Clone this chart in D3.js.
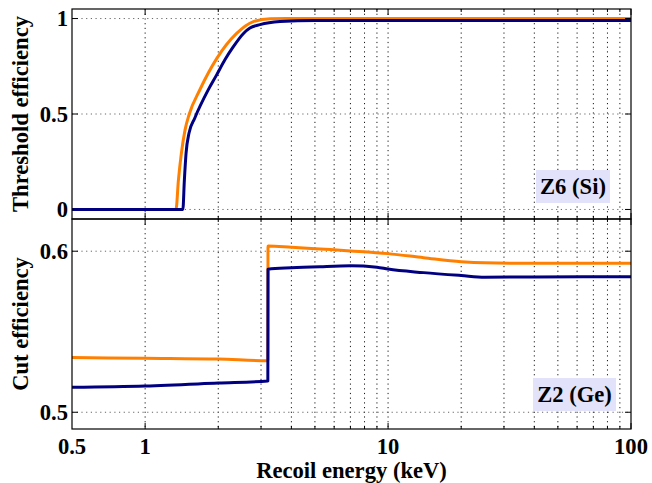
<!DOCTYPE html>
<html>
<head>
<meta charset="utf-8">
<script src="https://cdn.jsdelivr.net/npm/d3@7"></script>
<style>
  html, body { margin: 0; padding: 0; background: #fff; }
  svg { display: block; }
</style>
</head>
<body>
<div id="chart"></div>
<script>
// ---------- data ----------
const xTickValues = [0.5, 1, 10, 100];
const xTickLabels = ["0.5", "1", "10", "100"];
const topYTicks = [0, 0.5, 1];
const topYTickLabels = ["0", "0.5", "1"];
const botYTicks = [0.5, 0.6];
const botYTickLabels = ["0.5", "0.6"];

// Threshold efficiency (top panel)
const thrOrangeE = [0.5, 1.34, 1.37, 1.41, 1.46, 1.52, 1.68, 1.97, 2.38, 2.79, 3.27, 5, 100];
const thrOrangeV = [0, 0, 0.15, 0.295, 0.417, 0.5, 0.627, 0.79, 0.922, 0.984, 0.999, 1.0, 1.0];
const thrNavyE = [0.5, 1.43, 1.45, 1.474, 1.516, 1.6, 1.816, 1.97, 2.13, 2.3, 2.54, 2.7, 2.97, 3.59, 5, 100];
const thrNavyV = [0, 0, 0.15, 0.295, 0.4, 0.478, 0.625, 0.705, 0.784, 0.85, 0.922, 0.95, 0.968, 0.984, 0.99, 0.99];

// Cut efficiency (bottom panel)
const cutOrangeE = [0.5, 1, 2, 3.2, 3.205, 4, 5.25, 7, 10, 14, 20, 25, 40, 100];
const cutOrangeV = [0.534, 0.5335, 0.533, 0.532, 0.6033, 0.6025, 0.6014, 0.6002, 0.5985, 0.596, 0.5935, 0.5928, 0.5925, 0.5925];
const cutNavyE = [0.5, 1, 2, 3.2, 3.205, 4, 5.25, 7, 9, 10, 14, 20, 25, 40, 100];
const cutNavyV = [0.5155, 0.5163, 0.5181, 0.5194, 0.5888, 0.5897, 0.5904, 0.5909, 0.5901, 0.5889, 0.5867, 0.5849, 0.5839, 0.584, 0.5842];

const topLabel = "Threshold efficiency";
const botLabel = "Cut efficiency";
const xLabel = "Recoil energy (keV)";
const topTag = "Z6 (Si)";
const botTag = "Z2 (Ge)";

const colOrange = "#ff8000";
const colNavy = "#000080";
const FONT = "'Liberation Serif', Tinos, 'Times New Roman', serif";
const FS = 22.6;

// ---------- layout ----------
const W = 652, H = 483;
const left = 72, right = 631;
const topY0 = 9, topY1 = 219, botY0 = 219, botY1 = 429;

const svg = d3.select("#chart").append("svg").attr("width", W).attr("height", H)
  .attr("font-family", FONT).attr("font-weight", "bold");

const x = d3.scaleLog().domain([0.5, 100]).range([left, right]);
const yTop = d3.scaleLinear().domain([-0.05, 1.05]).range([topY1, topY0]);
const yBot = d3.scaleLinear().domain([0.4896, 0.62]).range([botY1, botY0]);

const gridX = [];
[1, 10].forEach(d => { for (let k = 1; k <= 9; k++) gridX.push(d * k); });
gridX.push(100);
const majorX = [1, 10, 100];
const minorX = gridX.filter(v => !majorX.includes(v));

function panel(y, y0, y1, yTicks, yTickLabels, series, label, tag, tagBox) {
  const g = svg.append("g");
  // grid
  g.selectAll(".vg").data(gridX.filter(v => v < 100)).enter().append("line")
    .attr("x1", d => x(d)).attr("x2", d => x(d)).attr("y1", y0).attr("y2", y1)
    .attr("stroke", "#000").attr("stroke-width", 1).attr("stroke-dasharray", "1.2,3.5").attr("opacity", 0.9);
  g.selectAll(".hg").data(yTicks).enter().append("line")
    .attr("x1", left).attr("x2", right).attr("y1", d => y(d)).attr("y2", d => y(d))
    .attr("stroke", "#666").attr("stroke-width", 1).attr("stroke-dasharray", "1.2,3.5");

  // tag box
  const tb = g.append("g");
  tb.append("rect").attr("x", tagBox[0]).attr("y", tagBox[1]).attr("width", tagBox[2]).attr("height", tagBox[3])
    .attr("fill", "#e2e2fa");
  tb.append("text").attr("x", tagBox[0] + tagBox[2] / 2).attr("y", tagBox[1] + tagBox[3] / 2)
    .attr("dy", "0.35em").attr("text-anchor", "middle").attr("font-size", FS).text(tag);

  // lines
  const line = d3.line().x(d => x(d[0])).y(d => y(d[1])).curve(d3.curveMonotoneX);
  series.forEach(s => {
    g.append("path").datum(s.E.map((e, i) => [e, s.V[i]]))
      .attr("d", line).attr("fill", "none").attr("stroke", s.color)
      .attr("stroke-width", 3).attr("stroke-linejoin", "round");
  });

  // ticks (inward)
  const tk = g.append("g").attr("stroke", "#000").attr("stroke-width", 1);
  majorX.concat(minorX).forEach(v => {
    const len = majorX.includes(v) ? 6 : 3;
    tk.append("line").attr("x1", x(v)).attr("x2", x(v)).attr("y1", y0).attr("y2", y0 + len);
    tk.append("line").attr("x1", x(v)).attr("x2", x(v)).attr("y1", y1).attr("y2", y1 - len);
  });
  yTicks.forEach(v => {
    tk.append("line").attr("x1", left).attr("x2", left + 6).attr("y1", y(v)).attr("y2", y(v));
    tk.append("line").attr("x1", right).attr("x2", right - 6).attr("y1", y(v)).attr("y2", y(v));
  });

  // frame
  g.append("rect").attr("x", left).attr("y", y0).attr("width", right - left).attr("height", y1 - y0)
    .attr("fill", "none").attr("stroke", "#000").attr("stroke-width", 1.2);

  // y tick labels
  g.selectAll(".yl").data(yTicks).enter().append("text")
    .attr("x", left - 4).attr("y", d => y(d)).attr("dy", "0.35em")
    .attr("text-anchor", "end").attr("font-size", FS)
    .text((d, i) => yTickLabels[i]);

  // y label
  g.append("text").attr("transform", `translate(27.5,${(y0 + y1) / 2}) rotate(-90)`)
    .attr("text-anchor", "middle").attr("font-size", FS).text(label);
}

panel(yTop, topY0, topY1, topYTicks, topYTickLabels, [
  { E: thrOrangeE, V: thrOrangeV, color: colOrange },
  { E: thrNavyE, V: thrNavyV, color: colNavy }
], topLabel, topTag, [536, 170, 74, 33]);

panel(yBot, botY0, botY1, botYTicks, botYTickLabels, [
  { E: cutOrangeE, V: cutOrangeV, color: colOrange },
  { E: cutNavyE, V: cutNavyV, color: colNavy }
], botLabel, botTag, [533, 378, 83, 33]);

// x tick labels
svg.selectAll(".xl").data(xTickValues).enter().append("text")
  .attr("x", d => x(d)).attr("y", 454).attr("text-anchor", "middle").attr("font-size", FS)
  .text((d, i) => xTickLabels[i]);

// x label
svg.append("text").attr("x", (left + right) / 2).attr("y", 478)
  .attr("text-anchor", "middle").attr("font-size", FS).text(xLabel);
</script>
</body>
</html>
